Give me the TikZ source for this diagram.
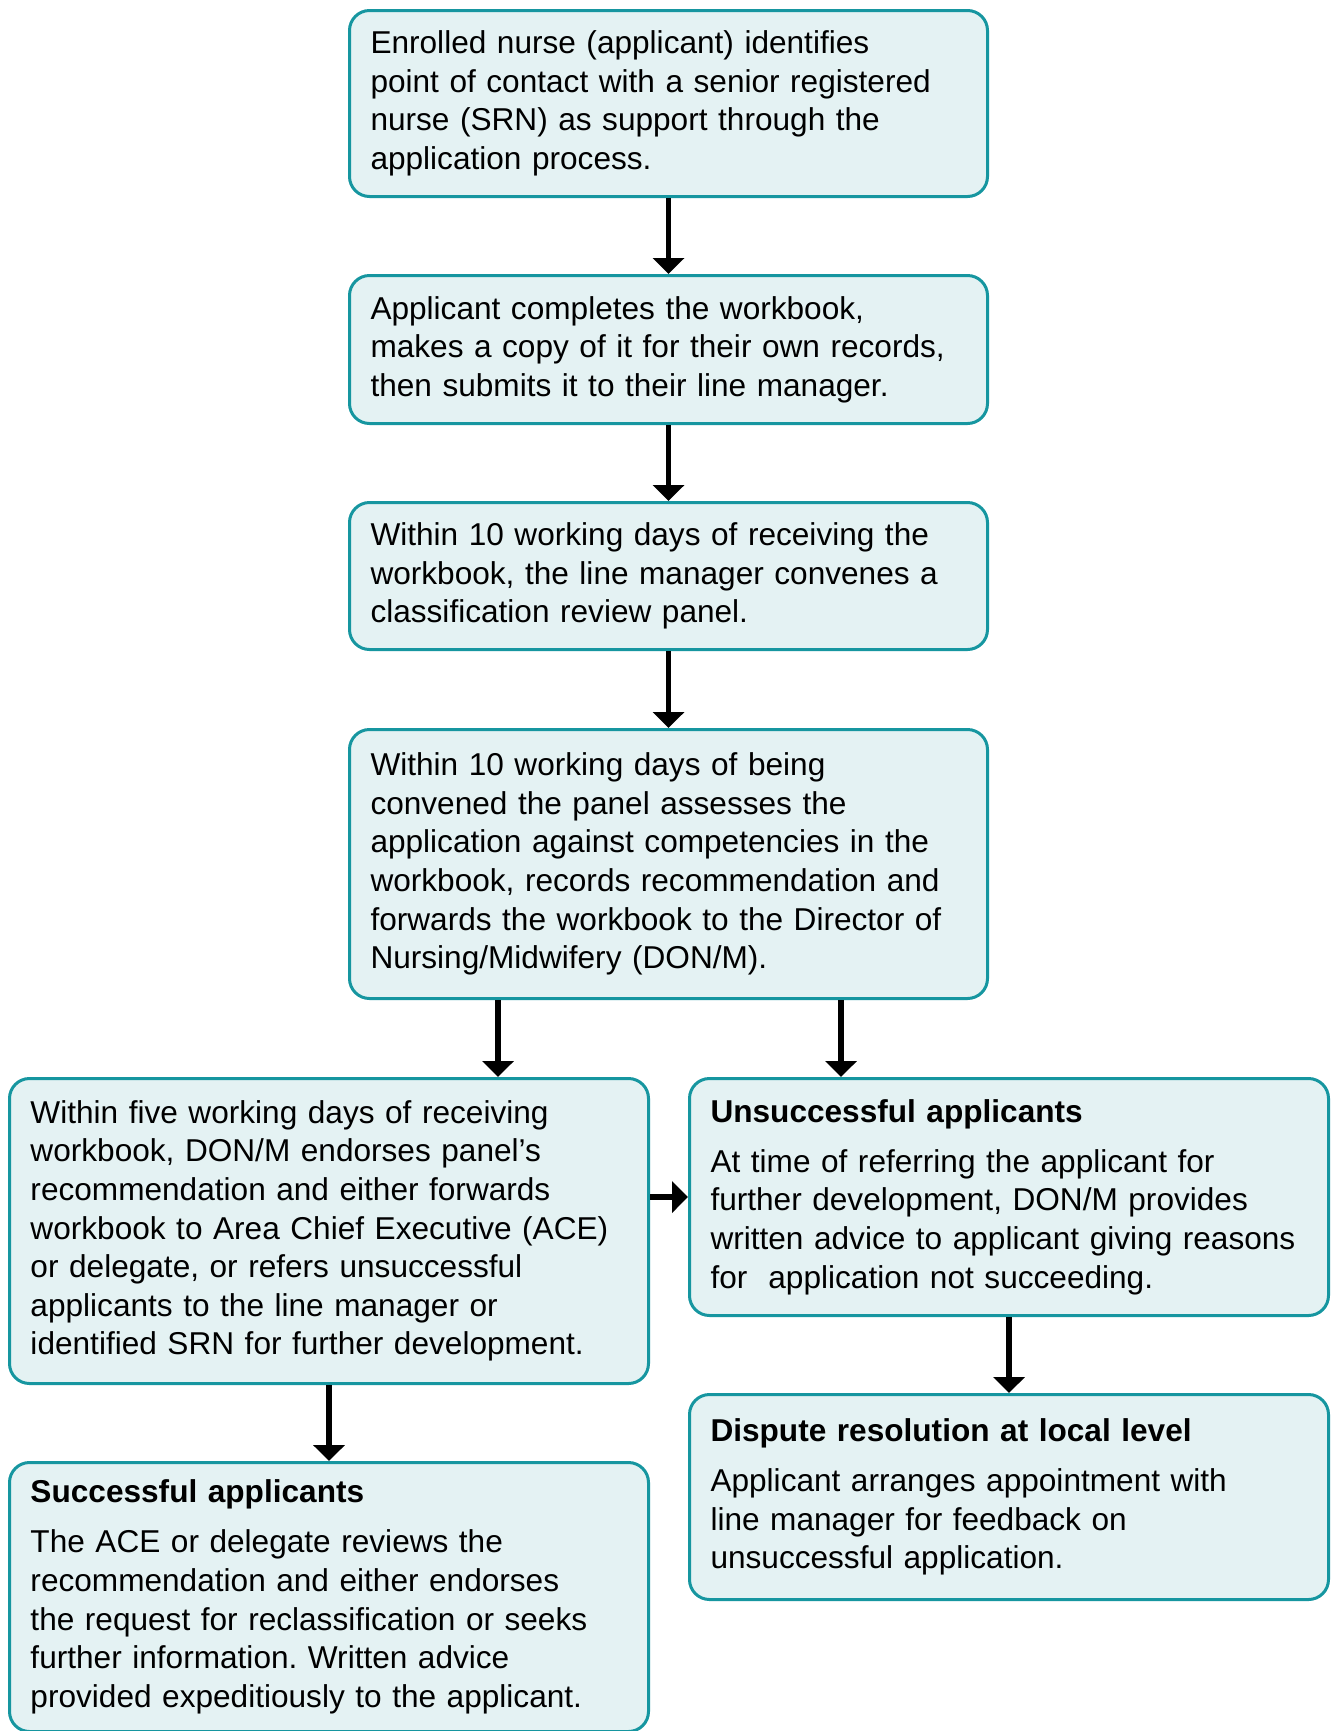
\documentclass[tikz,border=0pt]{standalone}
\usepackage{fontspec}
\setmainfont{Liberation Sans}
\usetikzlibrary{arrows.meta,calc}
\definecolor{boxline}{RGB}{22,150,160}
\definecolor{boxfill}{RGB}{228,242,243}
\frenchspacing
\begin{document}
\begin{tikzpicture}[x=0.5pt,y=-0.5pt,
  box/.style={draw=boxline,fill=boxfill,line width=1.5pt,rounded corners=10pt,
    anchor=north west,align=left,inner xsep=10.5pt,inner ysep=0pt,
    font=\fontsize{15.8}{19.3}\selectfont},
  arr/.style={line width=2.8pt,-{Triangle[width=15.5pt,length=8pt]}}]
\useasboundingbox[fill=white] (0,0) rectangle (1335,1731);

\node[box,text width=298pt,minimum height=93pt] (b1) at (348,9)
 {Enrolled nurse (applicant) identifies\\point of contact with a senior registered\\nurse (SRN) as support through the\\application process.};
\node[box,text width=298pt,minimum height=74pt] (b2) at (348,274)
 {Applicant completes the workbook,\\makes a copy of it for their own records,\\then submits it to their line manager.};
\node[box,text width=298pt,minimum height=73.5pt] (b3) at (348,501)
 {Within 10 working days of receiving the\\workbook, the line manager convenes a\\classification review panel.};
\node[box,text width=298pt,minimum height=134.5pt] (b4) at (348,728)
 {Within 10 working days of being\\convened the panel assesses the\\application against competencies in the\\workbook, records recommendation and\\forwards the workbook to the Director of\\Nursing/Midwifery (DON/M).};
\node[box,text width=298.5pt,minimum height=152.5pt] (b5) at (8,1077)
 {Within five working days of receiving\\workbook, DON/M endorses panel’s\\recommendation and either forwards\\workbook to Area Chief Executive (ACE)\\or delegate, or refers unsuccessful\\applicants to the line manager or\\identified SRN for further development.};
\node[box,text width=298.5pt,minimum height=118.5pt] (b6) at (688,1077)
 {\textbf{Unsuccessful applicants}\\[5.7pt]At time of referring the applicant for\\further development, DON/M provides\\written advice to applicant giving reasons\\for~ application not succeeding.};
\node[box,text width=298.5pt,minimum height=102.5pt] (b7) at (688,1393)
 {\textbf{Dispute resolution at local level}\\[5.7pt]Applicant arranges appointment with\\line manager for feedback on\\unsuccessful application.};
\node[box,text width=298.5pt,minimum height=134.5pt] (b8) at (8,1461)
 {\textbf{Successful applicants}\\[5.7pt]The ACE or delegate reviews the\\recommendation and either endorses\\the request for reclassification or seeks\\further information. Written advice\\provided expeditiously to the applicant.};

\draw[arr] (b1.south) -- (b2.north);
\draw[arr] (b2.south) -- (b3.north);
\draw[arr] (b3.south) -- (b4.north);
\coordinate (s1) at ($(b4.south west)+(150,0)$);
\coordinate (s2) at ($(b4.south east)+(-148,0)$);
\draw[arr] (s1) -- (s1 |- b5.north);
\draw[arr] (s2) -- (s2 |- b6.north);
\draw[arr] (b6.west -| b5.east) -- (b6.west);
\draw[arr] (b5.south) -- (b8.north);
\draw[arr] (b6.south) -- (b7.north);
\end{tikzpicture}
\end{document}
